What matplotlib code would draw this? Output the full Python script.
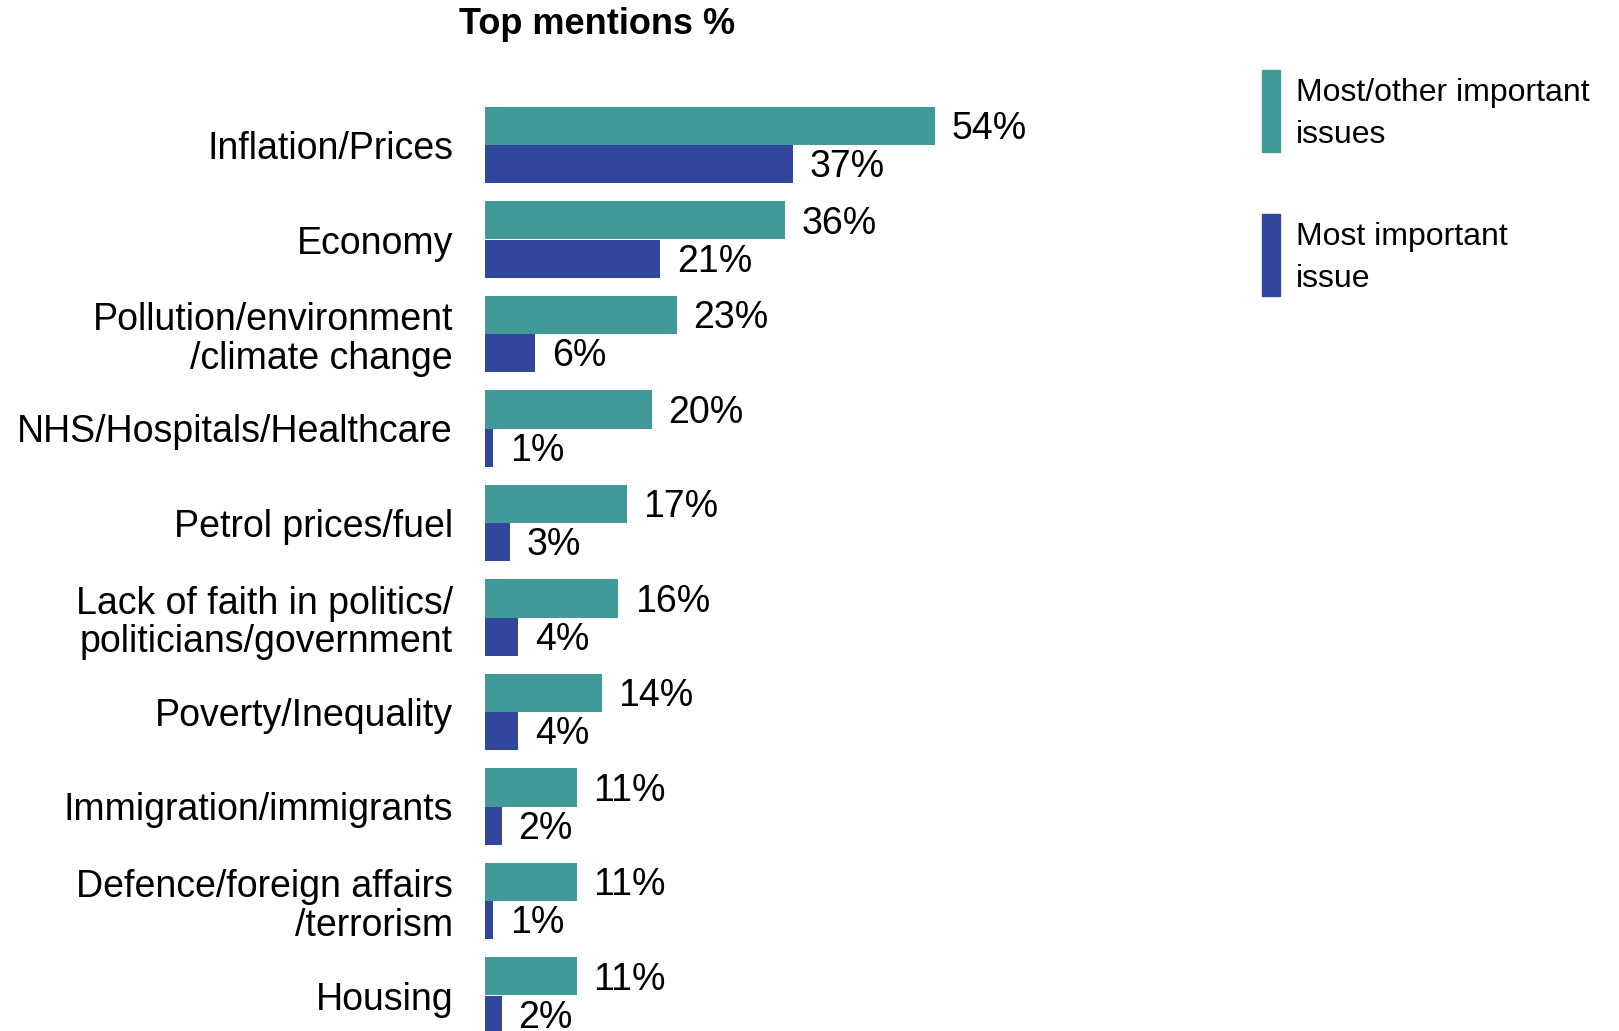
import matplotlib.pyplot as plt
from matplotlib.patches import Rectangle
import numpy as np

plt.rcParams['font.family'] = ['Liberation Sans', 'DejaVu Sans']

categories = ['Inflation/Prices', 'Economy', 'Pollution/environment\n/climate change',
              'NHS/Hospitals/Healthcare', 'Petrol prices/fuel',
              'Lack of faith in politics/\npoliticians/government', 'Poverty/Inequality',
              'Immigration/immigrants', 'Defence/foreign affairs\n/terrorism', 'Housing']
other_important = [54, 36, 23, 20, 17, 16, 14, 11, 11, 11]
most_important = [37, 21, 6, 1, 3, 4, 4, 2, 1, 2]
series_names = ['Most/other important\nissues', 'Most important\nissue']

teal = '#429A98'
blue = '#30479B'

W, H = 1619, 1031
fig = plt.figure(figsize=(W / 100, H / 100), dpi=100)

# axes placed in pixels: bars start at x=485, 1% = 8.33px, one category = 94.5px
left_px = 485
ax_w_px = 1000
ax = fig.add_axes([left_px / W, 0, ax_w_px / W, 1])
px_per_pct = 450 / 54
pitch = 94.5
ax.set_xlim(0, ax_w_px / px_per_pct)
ax.set_ylim((H - 145) / pitch, -145 / pitch)

y = np.arange(len(categories))
h = 0.405
ax.barh(y - h / 2, other_important, height=h, color=teal)
ax.barh(y + h / 2, most_important, height=h, color=blue)

for i in range(len(categories)):
    ax.text(other_important[i] + 2, y[i] - h / 2 + 0.035, f'{other_important[i]}%',
            va='center', ha='left', fontsize=27)
    ax.text(most_important[i] + 2, y[i] + h / 2 + 0.035, f'{most_important[i]}%',
            va='center', ha='left', fontsize=27)

ax.set_yticks(y)
ax.set_yticklabels(categories, fontsize=27, ha='right', linespacing=1.1)
ax.tick_params(axis='y', length=0, pad=23)
ax.set_xticks([])
for s in ax.spines.values():
    s.set_visible(False)

fig.text(597 / W, 1 - 25 / H, 'Top mentions %', ha='center', va='center',
         fontsize=26, fontweight='bold')

# legend
fig.add_artist(Rectangle((1262 / W, 1 - 152 / H), 18 / W, 82 / H,
                         transform=fig.transFigure, color=teal))
fig.add_artist(Rectangle((1262 / W, 1 - 296 / H), 18 / W, 82 / H,
                         transform=fig.transFigure, color=blue))
fig.text(1296 / W, 1 - 114 / H, series_names[0], ha='left', va='center',
         fontsize=23, linespacing=1.55)
fig.text(1296 / W, 1 - 258 / H, series_names[1], ha='left', va='center',
         fontsize=23, linespacing=1.55)

fig.savefig('out.png', dpi=100)
